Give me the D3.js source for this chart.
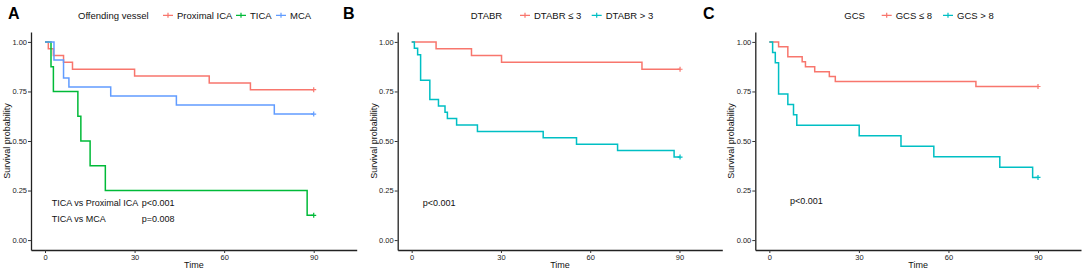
<!DOCTYPE html>
<html>
<head>
<meta charset="utf-8">
<script src="https://cdn.jsdelivr.net/npm/d3@7"></script>
<style>
  body { margin: 0; background: #fff; }
  text { font-family: "Liberation Sans", Arial, sans-serif; }
</style>
</head>
<body>
<div id="chart"></div>
<script>
// Panel A - offending vessel
var proxTime = [0, 1.1, 2.8, 6.2, 9.2, 30, 55, 68.8, 90];
var proxSurv = [1, 0.966, 0.931, 0.897, 0.862, 0.828, 0.793, 0.759, 0.759];
var ticaTime = [0, 2, 2.8, 11, 12, 15.1, 20.2, 87.8, 90];
var ticaSurv = [1, 0.875, 0.75, 0.625, 0.5, 0.375, 0.25, 0.125, 0.125];
var mcaTime = [0, 3, 6.2, 8, 22, 44, 76.8, 90];
var mcaSurv = [1, 0.909, 0.818, 0.773, 0.727, 0.682, 0.636, 0.636];

// Panel B - DTABR
var dLowTime = [0, 8.2, 20.1, 30.2, 77.4, 90.2];
var dLowSurv = [1, 0.966, 0.931, 0.897, 0.862, 0.862];
var dHighTime = [0, 0.9, 2, 3, 6.1, 9, 11.2, 12, 15.1, 22.1, 44.2, 55.4, 69.2, 88.2, 90.2];
var dHighSurv = [1, 0.968, 0.935, 0.806, 0.710, 0.677, 0.645, 0.613, 0.581, 0.548, 0.516, 0.484, 0.452, 0.419, 0.419];

// Panel C - GCS
var gLowTime = [0, 3.1, 6.2, 11, 12.1, 15.2, 20.1, 22.1, 69.2, 90];
var gLowSurv = [1, 0.975, 0.925, 0.9, 0.875, 0.85, 0.825, 0.8, 0.775, 0.775];
var gHighTime = [0, 1.1, 2, 3.1, 6.2, 8.1, 9.2, 30.1, 44.1, 55.1, 77.2, 88.2, 90];
var gHighSurv = [1, 0.947, 0.895, 0.737, 0.684, 0.632, 0.579, 0.526, 0.474, 0.421, 0.368, 0.316, 0.316];

var xTicks = [0, 30, 60, 90];
var yTicks = [0, 0.25, 0.5, 0.75, 1];

var panels = [
  {
    tag: "A", tagX: 8, left: 31, right: 356.7,
    legendTitle: "Offending vessel", legendX: 78,
    series: [
      { name: "Proximal ICA", color: "#F8766D", t: proxTime, s: proxSurv },
      { name: "TICA", color: "#00BA38", t: ticaTime, s: ticaSurv },
      { name: "MCA", color: "#619CFF", t: mcaTime, s: mcaSurv }
    ],
    legendItems: [163, 236, 276],
    notes: [
      { x: 51.7, y: 206, text: "TICA vs  Proximal ICA" }, { x: 141.7, y: 206, text: "p<0.001" },
      { x: 51.7, y: 222, text: "TICA vs MCA" }, { x: 141.7, y: 222, text: "p=0.008" }
    ]
  },
  {
    tag: "B", tagX: 343, left: 397.7, right: 722.3,
    legendTitle: "DTABR", legendX: 470.7,
    series: [
      { name: "DTABR \u2264 3", color: "#F8766D", t: dLowTime, s: dLowSurv },
      { name: "DTABR > 3", color: "#00BFC4", t: dHighTime, s: dHighSurv }
    ],
    legendItems: [520, 591.7],
    notes: [{ x: 422.7, y: 205.5, text: "p<0.001" }]
  },
  {
    tag: "C", tagX: 703, left: 755.3, right: 1081,
    legendTitle: "GCS", legendX: 844.3,
    series: [
      { name: "GCS \u2264 8", color: "#F8766D", t: gLowTime, s: gLowSurv },
      { name: "GCS > 8", color: "#00BFC4", t: gHighTime, s: gHighSurv }
    ],
    legendItems: [881.7, 943],
    notes: [{ x: 790, y: 204, text: "p<0.001" }]
  }
];

var svg = d3.select("#chart").append("svg")
    .attr("width", 1084)
    .attr("height", 271);

var plotTop = 32, plotBottom = 250;

panels.forEach(function(p) {
  var g = svg.append("g");

  var x = d3.scaleLinear().domain([-4.7, 104.4]).range([p.left, p.right]);
  var y = d3.scaleLinear().domain([-0.05, 1.05]).range([plotBottom, plotTop]);

  // axes
  var xa = g.append("g")
      .attr("transform", "translate(0," + plotBottom + ")")
      .call(d3.axisBottom(x).tickValues(xTicks).tickSize(3).tickSizeOuter(0));
  var ya = g.append("g")
      .attr("transform", "translate(" + p.left + ",0)")
      .call(d3.axisLeft(y).tickValues(yTicks).tickFormat(d3.format(".2f")).tickSize(3).tickSizeOuter(0));
  [xa, ya].forEach(function(a) {
    a.select(".domain").attr("stroke", "#222").attr("stroke-width", 1.3);
    a.selectAll(".tick line").attr("stroke", "#333");
    a.selectAll(".tick text").attr("fill", "#222").attr("font-size", "7.5px")
      .attr("font-family", "Liberation Sans, Arial, sans-serif");
  });
  xa.selectAll(".tick text").attr("dy", "0.9em").attr("y", 3);
  ya.selectAll(".tick text").attr("x", -4);

  // axis titles
  g.append("text")
      .attr("x", (p.left + p.right) / 2)
      .attr("y", 268)
      .attr("text-anchor", "middle")
      .attr("font-size", "9px")
      .attr("fill", "#111")
      .text("Time");
  g.append("text")
      .attr("transform", "translate(" + (p.left - 21) + "," + ((plotTop + plotBottom) / 2) + ") rotate(-90)")
      .attr("text-anchor", "middle")
      .attr("font-size", "9px")
      .attr("fill", "#111")
      .text("Survival probability");

  // curves
  var line = d3.line()
      .x(function(d) { return x(d[0]); })
      .y(function(d) { return y(d[1]); })
      .curve(d3.curveStepAfter);

  p.series.forEach(function(s) {
    var pts = s.t.map(function(t, i) { return [t, s.s[i]]; });
    g.append("path")
      .datum(pts)
      .attr("fill", "none")
      .attr("stroke", s.color)
      .attr("stroke-width", 1.5)
      .attr("d", line);
    // censor mark at the end
    var last = pts[pts.length - 1];
    g.append("path")
      .attr("d", "M" + (x(last[0]) - 2.5) + "," + y(last[1]) + "h5M" + x(last[0]) + "," + (y(last[1]) - 2.5) + "v5")
      .attr("stroke", s.color)
      .attr("stroke-width", 1.2);
  });

  // annotations
  p.notes.forEach(function(n) {
    g.append("text")
      .attr("x", n.x)
      .attr("y", n.y)
      .attr("font-size", "9px")
      .attr("fill", "#111")
      .text(n.text);
  });

  // legend
  g.append("text")
      .attr("x", p.legendX)
      .attr("y", 18.5)
      .attr("font-size", "9.5px")
      .attr("fill", "#111")
      .text(p.legendTitle);
  p.series.forEach(function(s, i) {
    var lx = p.legendItems[i];
    g.append("path")
      .attr("d", "M" + lx + ",15.3h10M" + (lx + 5) + ",12.8v5")
      .attr("stroke", s.color)
      .attr("stroke-width", 1.2);
    g.append("text")
      .attr("x", lx + 14)
      .attr("y", 18.5)
      .attr("font-size", "9.5px")
      .attr("fill", "#111")
      .text(s.name);
  });

  // panel tag
  g.append("text")
      .attr("x", p.tagX)
      .attr("y", 19)
      .attr("font-size", "16px")
      .attr("font-weight", "bold")
      .attr("fill", "#000")
      .text(p.tag);
});
</script>
</body>
</html>
